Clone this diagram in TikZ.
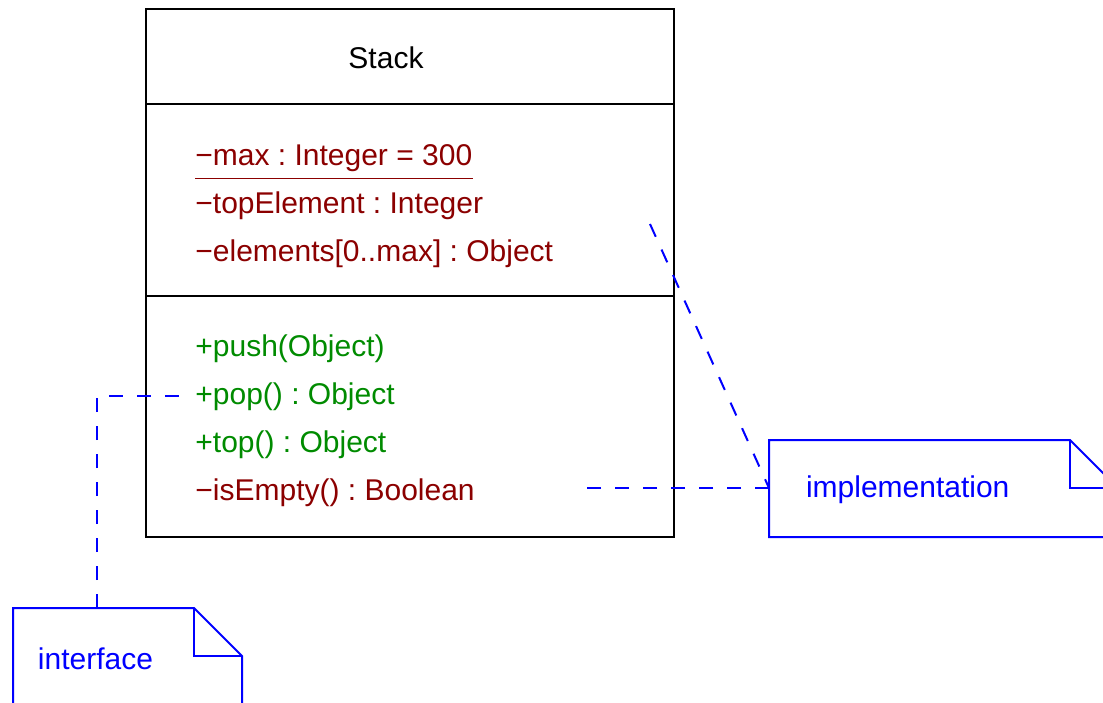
\documentclass[tikz,border=0pt]{standalone}
\usepackage{fontspec}
\setmainfont{Liberation Sans}
\usetikzlibrary{matrix,positioning}
\definecolor{attrred}{RGB}{139,0,0}
\definecolor{opgreen}{RGB}{0,139,0}
\frenchspacing

\begin{document}
\begin{tikzpicture}[x=0.5pt, y=-0.5pt,
        every node/.style={font=\fontsize{15}{18}\selectfont},
        compartment/.style={draw, line width=1pt, minimum width=264pt, inner sep=0pt, outer sep=0pt},
        private/.style={text=attrred},
        public/.style={text=opgreen},
        note/.style={anchor=north west, inner ysep=0pt, outer sep=0pt, align=left, text=blue},
        noteline/.style={blue, line width=1pt},
        link/.style={blue, line width=1pt, dash pattern=on 7pt off 7pt}]
        \useasboundingbox (0,0) rectangle (1103,702);
        \clip (0,0) rectangle (1103,702);

        % the class box: name, attributes, operations
        \node[compartment, minimum height=47.5pt] (title) at (410,56.5) {};
        \node[compartment, minimum height=96pt, below=0pt of title] (attrs) {};
        \node[compartment, minimum height=120.5pt, below=0pt of attrs] (ops) {};
        \node (name) at (386,58) {Stack};

        % members - row 4 is left empty where the divider goes
        \matrix (m) at (195,141) [matrix of nodes, anchor=north west, inner sep=0pt, nodes in empty cells,
            row sep={23.9pt,between origins},
            nodes={anchor=base west, inner sep=0pt, text height=12pt, text depth=4pt}]{
            |[private]| −max : Integer = 300          \\
            |[private]| −topElement : Integer         \\
            |[private]| −elements[0..max] : Object    \\
                                                      \\
            |[public]| +push(Object)                  \\
            |[public]| +pop() : Object                \\
            |[public]| +top() : Object                \\
            |[private]| −isEmpty() : Boolean          \\
        };
        \draw[attrred, line width=0.75pt] ([yshift=-6.5pt]m-1-1.base west) -- ([yshift=-6.5pt]m-1-1.base east);   % static attribute

        % the two notes
        \node[note, minimum width=114.5pt, minimum height=51pt, inner xsep=12.5pt, text width=89.5pt] (iface) at (13,608) {interface};
        \node[note, minimum width=174.5pt, minimum height=50pt, inner xsep=18.5pt, text width=137.5pt] (impl) at (769,440) {implementation};
        \draw[noteline] (iface.south west) |- ([xshift=-24pt]iface.north east) -- ([yshift=-24pt]iface.north east) -- (iface.south east) -- cycle;
        \draw[noteline] ([xshift=-24pt]iface.north east) |- ([yshift=-24pt]iface.north east);     % folded corner
        \draw[noteline] ([yshift=1.5pt]impl.south west) |- ([xshift=-24pt]impl.north east) -- ([yshift=-24pt]impl.north east) -- ([yshift=1.5pt]impl.south east) -- cycle;
        \draw[noteline] ([xshift=-24pt]impl.north east) |- ([yshift=-24pt]impl.north east);       % folded corner

        % anchors of the note links
        \coordinate (elems-end) at (650,224);
        \coordinate (empty-end) at (583,488);

        \draw[link] ([xshift=42pt]iface.north west) |- ([xshift=-5pt]m-6-1.west);   % interface -> pop()
        \draw[link] (impl.north west |- empty-end) -- (empty-end);                   % implementation -> isEmpty()
        \draw[link] (elems-end) -- (impl.north west |- empty-end);                   % implementation -> elements
    \end{tikzpicture}
\end{document}
